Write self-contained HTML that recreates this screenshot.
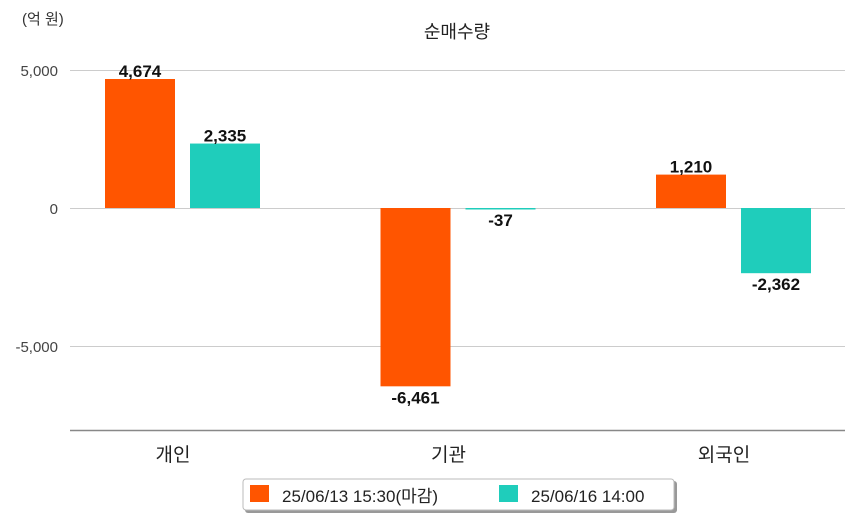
<!DOCTYPE html>
<html><head><meta charset="utf-8"><style>
body{margin:0;background:#fff;width:854px;height:520px;overflow:hidden}
svg text{font-family:"Liberation Sans","Noto Sans CJK KR",sans-serif}
</style></head><body>
<svg id="chart" width="854" height="520" xmlns="http://www.w3.org/2000/svg">
<text x="22" y="24" font-size="15" fill="#333">(억 원)</text>
<text x="457" y="38" font-size="18" fill="#222" text-anchor="middle">순매수량</text>
<g id="grid"></g><g id="bars"></g><g id="labels"></g>
<line x1="70" y1="430.5" x2="845" y2="430.5" stroke="#888" stroke-width="1.5"/>
<g>
<rect x="245" y="481" width="432" height="32" rx="3" fill="#999"/>
<rect x="243" y="479" width="431" height="31" rx="3" fill="#fff" stroke="#bbb"/>
<rect x="250" y="485" width="19" height="17" fill="#ff5500"/>
<text x="282" y="502" font-size="17" fill="#222">25/06/13 15:30(마감)</text>
<rect x="499" y="485" width="19" height="17" fill="#1fcdbb"/>
<text x="531" y="502" font-size="17" fill="#222">25/06/16 14:00</text>
</g>
</svg>
<script>
const categories=["개인","기관","외국인"];
const series1=[4674,-6461,1210];
const series2=[2335,-37,-2362];
const yTicks=[5000,0,-5000];
const tickLabels=["5,000","0","-5,000"];
const NS="http://www.w3.org/2000/svg";
const x0=70,x1=845,zeroY=208,pxPer=138/5000;
function y(v){return zeroY-v*pxPer;}
function cx(i){return 182+i*(x1-x0-224)/(categories.length-1);}
function mk(tag,attrs,parent){const e=document.createElementNS(NS,tag);for(const k in attrs)e.setAttribute(k,attrs[k]);parent.appendChild(e);return e;}
const grid=document.getElementById('grid'),bars=document.getElementById('bars'),labels=document.getElementById('labels');
yTicks.forEach((t,i)=>{
 const l=mk('line',{x1:x0,x2:x1,y1:y(t)+0.5,y2:y(t)+0.5,stroke:'#ccc'},grid);
 
 
 const tx=mk('text',{x:58,y:y(t)+6,'font-size':15,fill:'#444','text-anchor':'end'},grid);
 tx.textContent=tickLabels[i];
 
 
});
function fmt(v){return v.toLocaleString('en-US');}
[[series1,'#ff5500',-77],[series2,'#1fcdbb',8]].forEach(([s,c,off],si)=>{
 s.forEach((v,i)=>{
  const bx=cx(i)+off;
  const r=mk('rect',{x:bx,y:Math.min(y(v),zeroY),width:70,height:Math.max(Math.abs(y(v)-zeroY),1.5),fill:c},bars);
  
  
  const t=mk('text',{x:bx+35,y:v>=0?y(v)-2:y(v)+17,'font-size':17,'font-weight':'bold',fill:'#111','text-anchor':'middle'},labels);
  t.textContent=fmt(v);
  
  
 });
});
categories.forEach((c,i)=>{
 const t=mk('text',{x:cx(i)-9,y:461,'font-size':19,fill:'#222','text-anchor':'middle'},labels);
 t.textContent=c;
 
 
});
</script>
</body></html>
